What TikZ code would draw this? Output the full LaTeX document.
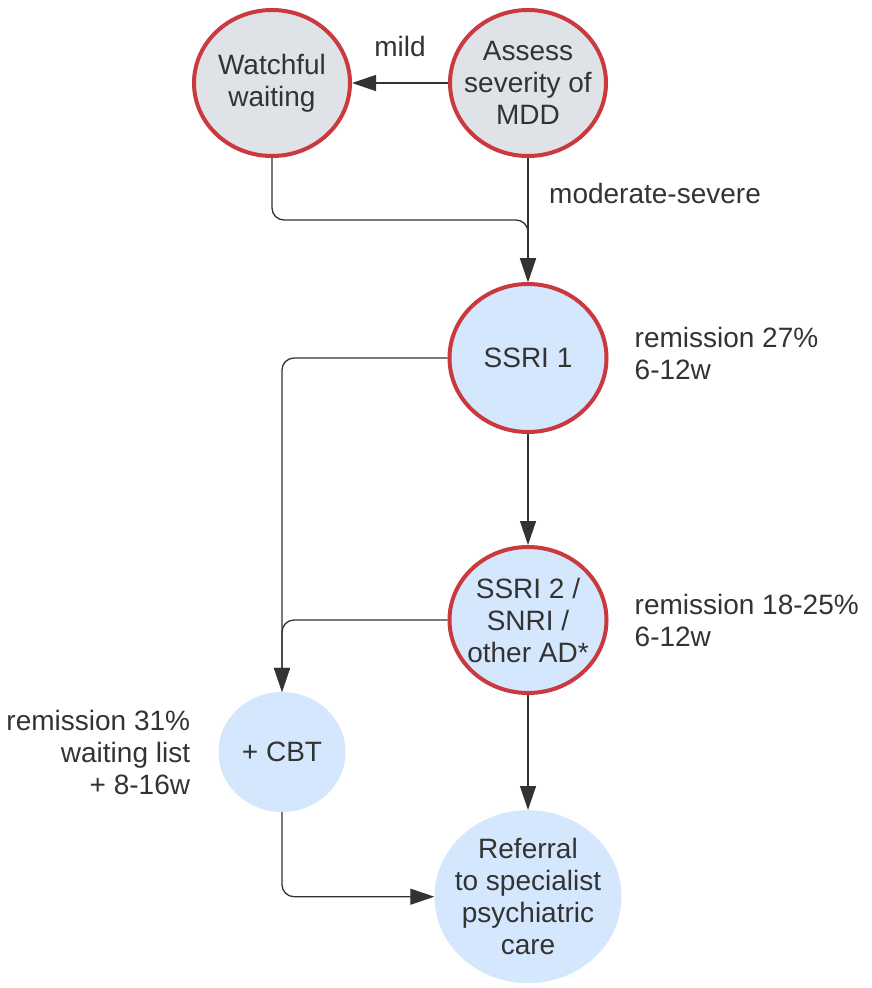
\documentclass[tikz,border=0pt]{standalone}
\usepackage{xcolor}
\usepackage{fontspec}
\setmainfont{Liberation Sans}
\usepackage{tikz}
\usetikzlibrary{shapes.geometric, positioning, arrows.meta}

\definecolor{redline}{HTML}{C9393D}
\definecolor{grayfill}{HTML}{DFE2E7}
\definecolor{bluefill}{HTML}{D5E7FC}
\definecolor{ink}{HTML}{333333}

\begin{document}
\begin{tikzpicture}[x=1pt, y=1pt,
        every node/.style={font=\fontsize{28}{32}\selectfont, text=ink},
        phase/.style={ellipse, draw=redline, line width=4pt, fill=bluefill, align=center, inner sep=-10pt},
        soft/.style={ellipse, fill=bluefill, align=center, inner sep=-10pt},
        lbl/.style={inner sep=0pt},
        flow/.style={draw=ink, line width=1.3pt, rounded corners=12pt, -{Triangle[length=24pt, width=16pt]}}]

        \useasboundingbox (0,0) rectangle (872,-988);

        \node[phase, fill=grayfill, minimum width=156pt, minimum height=146pt] (assess) at (528,-83) {Assess\\severity of\\MDD};
        \node[phase, fill=grayfill, minimum width=156pt, minimum height=146pt] (watch) [left=96pt of assess] {Watchful\\waiting};
        \node[phase, minimum width=157pt, minimum height=148pt] (ssri1) [below=124pt of assess] {SSRI 1};
        \node[phase, minimum width=157pt, minimum height=146pt] (ssri2) [below=111pt of ssri1] {SSRI 2 /\\SNRI /\\other AD*};
        \node[soft, minimum width=187pt, minimum height=173pt] (refer) [below=115pt of ssri2] {Referral\\to specialist\\psychiatric\\care};
        \node[soft, minimum width=127pt, minimum height=120pt] (cbt) at (282,-752) {+ CBT};

        \node[lbl, anchor=west] (modsev) at ([xshift=21pt, yshift=-35pt]assess.south) {moderate-severe};
        \node[lbl, anchor=west, align=left] (rem1) at ([xshift=26pt, yshift=5pt]ssri1.east) {remission 27\%\\6-12w};
        \node[lbl, anchor=west, align=left] (rem2) at ([xshift=26pt]ssri2.east) {remission 18-25\%\\6-12w};
        \node[lbl, anchor=east, align=right] (rem3) at ([xshift=-28pt]cbt.west) {remission 31\%\\waiting list\\+ 8-16w};

        \draw[flow] (assess) -- node[lbl, above=26pt] (mild) {mild} (watch);
        \draw[flow] (assess) -- (ssri1);
        \draw[flow] (watch.south) |- ([yshift=62pt]ssri1.north) -- (ssri1.north);
        \draw[flow] (ssri1) -- (ssri2);
        \draw[flow] (ssri2) -- (refer);
        \draw[flow] (ssri1.west) -| (cbt.north);
        \draw[flow] (ssri2.west) -| (cbt.north);
        \draw[flow] (cbt.south) |- (refer.west);

\end{tikzpicture}
\end{document}
